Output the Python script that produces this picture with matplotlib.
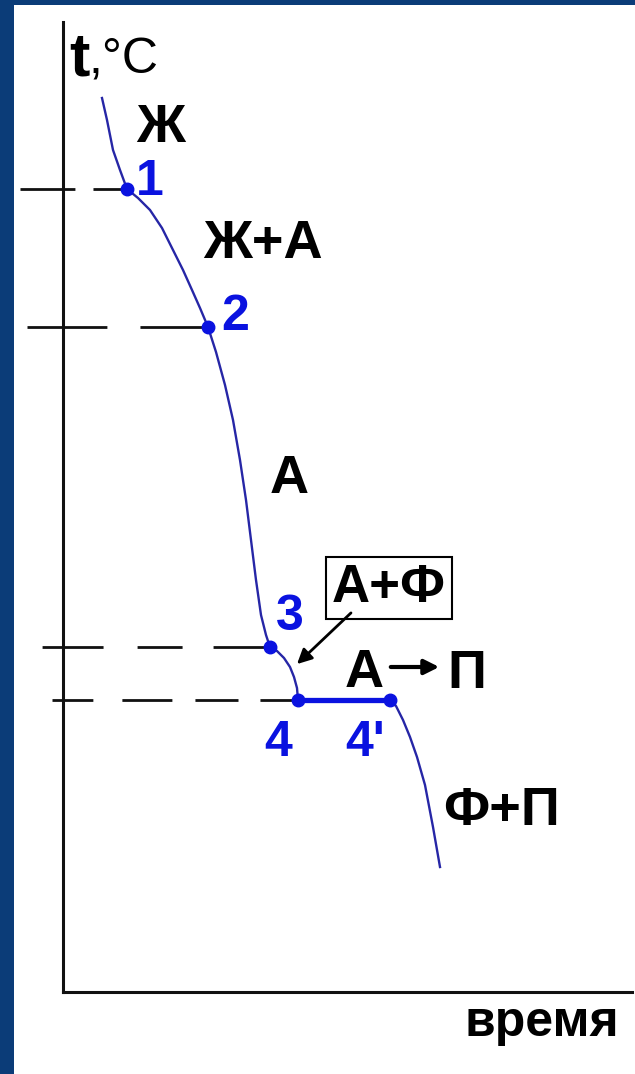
import matplotlib
matplotlib.use("Agg")
import matplotlib.pyplot as plt
from matplotlib.patches import Rectangle

plt.rcParams['font.family'] = ['Liberation Sans', 'DejaVu Sans']
plt.rcParams['lines.scale_dashes'] = False

# cooling curve of a hypoeutectoid steel, time vs temperature (arbitrary units)
seg_liquid_t = [3.9, 4.4, 5.0, 5.7, 6.4]
seg_liquid_T = [89.4, 87.2, 84.2, 82.2, 80.3]
seg_crys_t = [6.4, 7.5, 8.7, 9.9, 11.0, 12.0, 12.9, 13.7, 14.5]
seg_crys_T = [80.3, 79.4, 78.2, 76.4, 74.2, 72.2, 70.2, 68.4, 66.5]
seg_aust_t = [14.5, 15.3, 16.2, 17.0, 17.7, 18.3, 18.8, 19.3, 19.8, 20.3, 20.7]
seg_aust_T = [66.5, 64.0, 60.7, 57.2, 53.2, 49.2, 45.2, 41.2, 37.7, 35.7, 34.5]
seg_ferr_t = [20.7, 21.4, 22.1, 22.7, 23.1, 23.4, 23.5]
seg_ferr_T = [34.5, 34.1, 33.4, 32.5, 31.5, 30.4, 29.2]
seg_eut_t = [23.5, 32.7]
seg_eut_T = [29.2, 29.2]
seg_cool_t = [32.7, 33.3, 34.0, 34.7, 35.4, 36.2, 37.0, 37.7]
seg_cool_T = [29.2, 28.6, 27.2, 25.5, 23.5, 20.7, 16.5, 12.5]

point_labels = ['1', '2', '3', '4', "4'"]
point_t = [6.4, 14.5, 20.7, 23.5, 32.7]
point_T = [80.3, 66.5, 34.5, 29.2, 29.2]

# critical temperatures marked by dashed lines back to the t axis
crit_T = [80.3, 66.5, 34.5, 29.2]
crit_t_end = [6.4, 14.5, 20.7, 23.5]
crit_t_start = [-4.3, -3.6, -2.1, -1.1]
crit_dashes = [(24.5, 13, 39.6, 13),
               (49, 23.8, 57.6, 23.8),
               (41, 22.3, 32.4, 24.5, 43.9, 24.5),
               (27.4, 15.8, 31, 16.6, 36, 20.9, 29.5, 20.9)]

phase_labels = ['Ж', 'Ж+А', 'А', 'Ф+П']
phase_x = [7.3, 14.0, 20.7, 38.0]
phase_y = [85.0, 73.4, 49.9, 16.7]

# label offsets for the point numbers
num_x = [7.3, 15.8, 21.3, 20.1, 28.2]
num_y = [79.7, 66.2, 36.2, 23.6, 23.6]

curve_col = '#2626a6'
mark_col = '#0a12e0'

fig = plt.figure(figsize=(6.35, 10.74), dpi=100, facecolor='#0b3c78')
fig.patches.append(Rectangle((14 / 635, 0), 1, 1 - 5 / 1074, transform=fig.transFigure,
                             facecolor='white', edgecolor='none', zorder=-10))

ax = fig.add_axes([63 / 635, 82 / 1074, 569 / 635, 970 / 1074])
ax.patch.set_alpha(0)
ax.set_xlim(0, 56.9)
ax.set_ylim(0, 97.0)
for s in ['top', 'right']:
    ax.spines[s].set_visible(False)
for s in ['left', 'bottom']:
    ax.spines[s].set_linewidth(2.2)
    ax.spines[s].set_color('#111111')
ax.set_xticks([])
ax.set_yticks([])

for T, t0, t1, d in zip(crit_T, crit_t_start, crit_t_end, crit_dashes):
    ax.plot([t1, t0], [T, T], color='#111111', lw=2, dashes=d, clip_on=False,
            solid_capstyle='butt', dash_capstyle='butt')

for xs, ys in [(seg_liquid_t, seg_liquid_T), (seg_crys_t, seg_crys_T),
               (seg_aust_t, seg_aust_T), (seg_ferr_t, seg_ferr_T),
               (seg_cool_t, seg_cool_T)]:
    ax.plot(xs, ys, color=curve_col, lw=1.7, zorder=3)
ax.plot(seg_eut_t, seg_eut_T, color=mark_col, lw=3.8, zorder=3, solid_capstyle='butt')
ax.plot(point_t, point_T, 'o', color=mark_col, ms=9, zorder=4)

for lab, x, y in zip(point_labels, num_x, num_y):
    ax.text(x, y, lab, color=mark_col, fontsize=36, fontweight='bold', va='baseline')

for lab, x, y in zip(phase_labels, phase_x, phase_y):
    ax.text(x, y, lab, color='black', fontsize=39, fontweight='bold', va='baseline')

# boxed label with a pointer to the A+F segment
ax.text(26.9, 39.0, 'А+Ф', fontsize=38, fontweight='bold', va='baseline',
        bbox=dict(boxstyle='square,pad=0.12', facecolor='white', edgecolor='black', lw=1.5))
ax.annotate('', xy=(23.2, 32.6), xytext=(29.0, 38.1),
            arrowprops=dict(arrowstyle='-|>', color='black', lw=2, mutation_scale=22))

# eutectoid transformation A -> P
ax.text(28.2, 30.5, 'А', fontsize=39, fontweight='bold', va='baseline')
ax.annotate('', xy=(37.9, 32.5), xytext=(32.5, 32.5),
            arrowprops=dict(arrowstyle='-|>', color='black', lw=3, mutation_scale=22))
ax.text(38.4, 30.4, 'П', fontsize=39, fontweight='bold', va='baseline')

# axis titles
ax.text(0.6, 91.7, 't', fontsize=44, fontweight='bold', va='baseline', clip_on=False)
ax.text(2.6, 91.9, ',°C', fontsize=36, va='baseline', clip_on=False)
ax.text(40.2, -4.4, 'время', fontsize=36, fontweight='bold', va='baseline', clip_on=False)

fig.savefig('out.png', dpi=100, facecolor=fig.get_facecolor())
